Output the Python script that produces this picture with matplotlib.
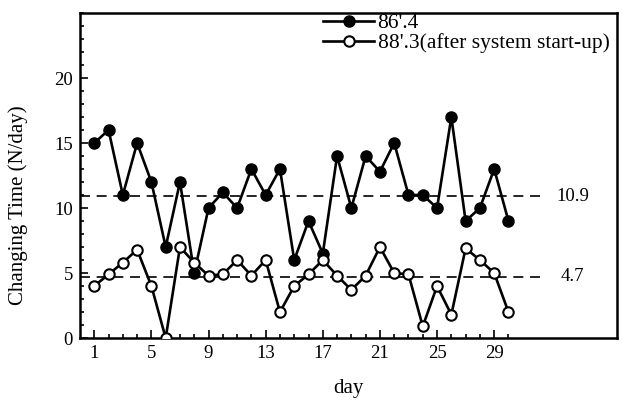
import matplotlib
matplotlib.use("Agg")
import matplotlib.pyplot as plt
from matplotlib.ticker import MultipleLocator, FixedLocator

plt.rcParams['font.family'] = ['Liberation Serif', 'DejaVu Serif']

days = list(range(1, 31))
series_before = [15, 16, 11, 15, 12, 7, 12, 5, 10, 11.2, 10, 13, 11, 13, 6, 9, 6.5, 14, 10,
                 14, 12.8, 15, 11, 11, 10, 17, 9, 10, 13, 9]
series_after = [4, 4.9, 5.8, 6.8, 4, 0, 7, 5.8, 4.8, 4.9, 6, 4.8, 6, 2, 4, 4.9, 6, 4.8, 3.7,
                4.8, 7, 5, 4.9, 0.9, 4, 1.8, 6.9, 6, 5, 2]
label_before = "86'.4"
label_after = "88'.3(after system start-up)"
mean_values = [10.9, 4.7]
mean_labels = ["10.9", "4.7"]
xtick_labels = [1, 5, 9, 13, 17, 21, 25, 29]
ytick_labels = [0, 5, 10, 15, 20]

fig = plt.figure(figsize=(6.22, 4.01), dpi=100)
ax = fig.add_axes([0.1286, 0.157, 0.8634, 0.8106])

ax.plot(days, series_before, color='black', lw=1.9, marker='o', ms=8,
        mfc='black', mec='black', label=label_before, zorder=3)
ax.plot(days, series_after, color='black', lw=1.9, marker='o', ms=7.5,
        mfc='white', mec='black', mew=1.5, label=label_after, zorder=4)

for m, lab in zip(mean_values, mean_labels):
    ax.plot([0, 32.6], [m, m], color='black', lw=1.2, ls=(0, (6, 4)), zorder=2)
    ax.text(34.5, m, lab, ha='center', va='center', fontsize=13.5)

ax.set_xlim(0, 37.6)
ax.set_ylim(0, 25)
ax.xaxis.set_major_locator(FixedLocator(xtick_labels))
ax.xaxis.set_minor_locator(FixedLocator(days))
ax.yaxis.set_major_locator(FixedLocator(ytick_labels))
ax.yaxis.set_minor_locator(MultipleLocator(1))
ax.tick_params(which='both', direction='in', labelsize=13.5, width=1.2)
ax.tick_params(which='major', length=6)
ax.tick_params(which='minor', length=3)
ax.tick_params(axis='x', pad=5)
ax.tick_params(axis='y', pad=5)
for s in ax.spines.values():
    s.set_linewidth(1.8)

ax.set_xlabel('day', fontsize=15, labelpad=12)
ax.set_ylabel('Changing Time (N/day)', fontsize=15)
ax.yaxis.set_label_coords(-0.097, 0.41)

leg = ax.legend(loc='upper left', bbox_to_anchor=(0.452, 1.0), frameon=False,
                fontsize=15.5, handlelength=2.4, handletextpad=0.15, labelspacing=0.0,
                borderaxespad=0.0, borderpad=0.0)

fig.savefig('out.png', dpi=100)
